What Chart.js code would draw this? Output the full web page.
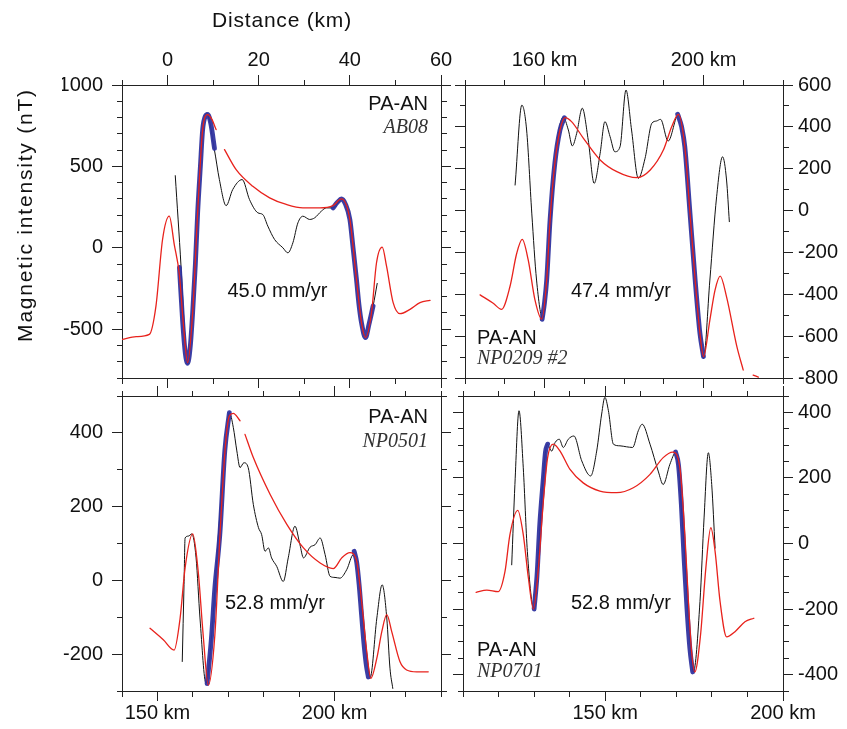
<!DOCTYPE html>
<html>
<head>
<meta charset="utf-8">
<script src="https://cdn.jsdelivr.net/npm/chart.js@4.4.1/dist/chart.umd.min.js"></script>
<style>
  html, body { margin: 0; padding: 0; background: #fff; overflow: hidden; }
  #wrap { position: relative; width: 847px; height: 729px; }
  #wrap canvas { position: absolute; left: 0; top: 0; }
</style>
</head>
<body>
<div id="wrap">
  <canvas id="tl" width="847" height="729"></canvas>
  <canvas id="tr" width="847" height="729"></canvas>
  <canvas id="bl" width="847" height="729"></canvas>
  <canvas id="br" width="847" height="729"></canvas>
</div>
<script>
// ---- AB08 (top left), distance in km ----
const tlModelKm = [-10, -6.9, -4.0, -2.55, -1.1, 0.37, 1.47, 2.57, 3.5, 4.4, 5.5, 6.6, 7.7, 8.8, 9.7, 10.65, 11.5, 12.5, 15.05, 18.7, 22.4, 26.05, 29.7, 33.4, 36.3, 38.15, 40.0, 41.45, 42.55, 43.43, 44.75, 45.85, 47.1, 48.05, 49.5, 51.0, 53.2, 55.4, 57.6];
const tlModel = [-563, -546, -532, -358, 51, 194, 20, -160, -480, -706, -400, 215, 726, 818, 790, 726, null, 603, 480, 378, 307, 266, 245, 245, 259, 300, 174, -194, -460, -552, -399, -92, 4, -113, -337, -405, -378, -337, -323];
const tlObsKm = [1.69, 2.95, 3.7, 4.4, 5.5, 6.6, 7.65, 8.58, 10.27, 11.37, 12.85, 14.3, 16.37, 17.98, 19.8, 20.9, 22.0, 23.48, 25.3, 26.4, 27.5, 28.6, 29.7, 31.18, 32.28, 33.75, 34.85, 36.3, 38.15, 40.0, 41.45, 42.55, 43.43, 45.1, 46.0];
const tlObs = [443, -113, -500, -715, -400, 215, 700, 828, 603, 419, 259, 358, 419, 296, 215, 204, 133, 51, 0, -31, 31, 153, 194, 174, 184, 225, 245, 245, 296, 174, -194, -460, -552, -358, -219];
const tlFit1Km = [2.6, 3.3, 3.9, 4.4, 5.0, 5.5, 6.1, 6.6, 7.2, 7.7, 8.3, 8.8, 9.5, 10.3];
const tlFit1 = [-120, -450, -650, -710, -600, -400, -100, 215, 500, 726, 810, 820, 760, 610];
const tlFit2Km = [36.3, 37.3, 38.15, 39.0, 40.0, 40.7, 41.45, 42.0, 42.55, 43.43, 44.2, 45.1];
const tlFit2 = [245, 280, 300, 270, 174, 0, -194, -350, -460, -552, -470, -358];

// ---- NP0209 #2 (top right) ----
const trModelKm = [143.8, 147.1, 149.2, 151.3, 153.0, 154.4, 155.9, 157.6, 159.3, 160.55, 161.4, 162.6, 163.9, 165.2, 166.8, 169.8, 174.0, 178.2, 183.2, 186.6, 189.9, 192.0, 193.7, 195.3, 196.6, 197.9, 199.1, 200.0, 201.6, 202.9, 204.2, 205.8, 208.4, 210.0, 211.2, 212.5, 213.8];
const trModel = [-403, -443, -472, -364, -205, -138, -236, -427, -519, -332, -45, 226, 385, 444, 425, 345, 242, 186, 157, 194, 289, 401, 460, 305, -12, -332, -586, -698, -523, -380, -313, -412, -650, -762, null, -786, -796];
const trObsKm = [152.6, 154.3, 155.5, 156.8, 158.0, 159.55, 161.4, 163.05, 164.7, 166.0, 167.0, 168.1, 169.5, 171.0, 172.5, 174.0, 175.2, 176.5, 177.7, 179.0, 180.5, 181.9, 183.6, 185.3, 187.0, 188.2, 189.2, 191.1, 193.7, 195.3, 196.6, 197.9, 199.1, 200.0, 201.6, 203.3, 204.8, 205.8, 206.5];
const trObs = [122, 504, 385, -12, -332, -515, -93, 305, 446, 385, 309, 369, 489, 337, 130, 274, 425, 353, 281, 305, 576, 385, 154, 250, 417, 428, 436, 332, 460, 305, -12, -332, -600, -706, -332, 66, 257, 146, -53];
const trFit1Km = [159.4, 160.0, 160.55, 161.4, 162.6, 163.9, 165.0];
const trFit1 = [-520, -440, -332, -45, 226, 385, 444];
const trFit2Km = [193.5, 194.5, 195.3, 196.6, 197.9, 199.1, 200.0];
const trFit2 = [460, 400, 305, -12, -332, -586, -698];

// ---- NP0501 (bottom left) ----
const blModelKm = [147.9, 151.65, 154.7, 156.4, 157.8, 159.95, 161.5, 162.9, 164.35, 166.2, 167.65, 169.05, 170.3, 171.4, 173.3, 174.0, 174.7, 177.05, 181.8, 186.5, 191.2, 195.9, 199.6, 202.0, 204.3, 206.2, 207.6, 209.05, 210.2, 211.9, 213.3, 214.7, 216.1, 218.4, 220.3, 223.15, 226.4];
const blModel = [-130, -161, -189, -102, 34, 126, 24, -148, -284, -148, 124, 351, 446, 453, 433, null, 396, 333, 233, 152, 88, 47, 32, 61, 75, 52, -57, -193, -266, -211, -139, -93, -139, -220, -243, -248, -248];
const blObsKm = [157.0, 157.5, 157.8, 158.7, 159.7, 160.9, 162.0, 163.7, 165.3, 167.2, 169.05, 170.3, 171.4, 172.4, 173.3, 174.4, 175.6, 177.05, 178.5, 179.4, 180.35, 181.3, 182.2, 183.65, 185.5, 186.9, 188.8, 190.2, 191.2, 193.05, 194.5, 195.9, 197.3, 198.7, 200.1, 201.5, 203.4, 205.3, 206.6, 207.7, 208.9, 210.0, 211.9, 213.4, 214.7, 215.6, 216.4];
const blObs = [-220, -12, 115, 120, 126, 61, -102, -279, -148, 124, 351, 455, 415, 351, 306, 319, 306, 206, 143, 124, 79, 88, 61, 38, -3, 61, 147, 97, 61, 90, 97, 115, 70, 11, 8, 6, 29, 70, 20, -80, -190, -264, -102, -12, -102, -238, -293];
const blFit1Km = [164.0, 165.2, 166.2, 167.6, 169.0, 170.3];
const blFit1 = [-280, -160, -20, 124, 351, 455];
const blFit2Km = [205.5, 206.2, 206.9, 207.6, 208.3, 209.0, 209.5];
const blFit2 = [79, 50, -12, -95, -175, -235, -262];

// ---- NP0701 (bottom right) ----
const brModelKm = [113.7, 116.7, 119.9, 121.8, 123.2, 125.4, 126.95, 128.4, 129.8, 131.2, 132.6, 133.8, 135.4, 137.3, 140.1, 143.8, 148.5, 153.2, 157.9, 162.6, 166.3, 169.0, 171.0, 172.4, 173.4, 174.3, 175.2, 176.8, 178.3, 179.7, 180.9, 182.3, 184.15, 186.5, 189.3, 191.8];
const brModel = [-149, -142, -147, -86, 27, 101, 27, -106, -200, -75, 129, 262, 303, 282, 226, 185, 160, 155, 170, 211, 262, 279, 231, 27, -177, -331, -392, -280, -75, 48, -24, -177, -285, -269, -239, -228];
const brObsKm = [123.7, 124.6, 125.75, 126.95, 128.1, 130.0, 131.2, 132.6, 133.7, 134.95, 135.9, 137.1, 138.2, 139.6, 141.2, 143.4, 145.9, 147.6, 149.0, 149.9, 150.9, 152.3, 154.15, 156.0, 157.7, 159.3, 160.4, 162.6, 164.9, 166.3, 168.2, 169.8, 171.95, 173.4, 174.8, 176.65, 177.8, 179.0, 179.95, 180.9];
const brObs = [-65, 180, 405, 231, -24, -200, -24, 211, 303, 282, 308, 318, 293, 318, 328, 252, 206, 282, 395, 446, 405, 303, 298, 295, 293, 344, 364, 303, 221, 180, 242, 277, 27, -228, -392, -177, 78, 277, 180, -14];
const brFit1Km = [130.0, 130.8, 131.6, 132.6, 133.2, 133.8];
const brFit1 = [-200, -100, 60, 200, 280, 303];
const brFit2Km = [169.8, 170.6, 171.4, 172.2, 173.0, 173.8, 174.6];
const brFit2 = [279, 240, 120, -50, -200, -320, -392];

Chart.defaults.font.family = '"Liberation Sans", Arial, Helvetica, sans-serif';
Chart.defaults.font.size = 20;
Chart.defaults.color = '#111';

const W = 847, H = 729;
const axisColor = '#222';

function pts(xs, ys) {
  return xs.map((x, i) => ({ x: x, y: ys[i] }));
}

function axis(pos, min, max, step, isMajor, label, thick, pad) {
  const outerFirst = pos === 'left' || pos === 'top';
  const vertical = pos === 'left' || pos === 'right';
  return {
    type: 'linear',
    position: pos,
    min: min,
    max: max,
    afterFit: s => { if (vertical) s.width = thick; else s.height = thick; },
    grid: {
      drawOnChartArea: false,
      drawTicks: true,
      tickLength: 10,
      tickColor: axisColor,
      tickWidth: 1,
      tickBorderDash: ctx => {
        if (!ctx.tick || isMajor(Math.round(ctx.tick.value))) return [];
        return outerFirst ? [0, 5, 5, 40] : [5, 40];
      }
    },
    border: { display: true, color: axisColor, width: 1 },
    ticks: {
      stepSize: step,
      autoSkip: false,
      maxRotation: 0,
      minRotation: 0,
      padding: pad,
      color: '#111',
      font: { size: 20 },
      callback: v => {
        const r = Math.round(v);
        return label && isMajor(r) ? label(r) : '';
      }
    }
  };
}

function notesPlugin(items) {
  return {
    id: 'notes',
    afterDraw(chart) {
      const c = chart.ctx, a = chart.chartArea;
      items.forEach(n => {
        c.save();
        c.font = n.font;
        c.fillStyle = n.color || '#111';
        c.textAlign = n.align || 'left';
        c.textBaseline = 'middle';
        if (n.spacing) c.letterSpacing = n.spacing;
        const x = n.abs ? n.x : a.left + n.x;
        const y = n.abs ? n.y : a.top + n.y;
        if (n.rotate) {
          c.translate(x, y);
          c.rotate(-Math.PI / 2);
          c.fillText(n.text, 0, 0);
        } else {
          c.fillText(n.text, x, y);
        }
        c.restore();
      });
    }
  };
}

const sans = '20px "Liberation Sans", Arial, sans-serif';
const serifIt = 'italic 20px "Liberation Serif", "Times New Roman", serif';
const num = v => String(v);
const km = v => v + ' km';

function makePanel(id, p) {
  const f = p.frame;
  const side = { left: 12, right: 12, top: 12, bottom: 12 };
  side[p.yLabelSide] = 60;
  side[p.xLabelSide] = p.xLabelSide === 'top' ? 40 : 30;
  const yOther = p.yLabelSide === 'left' ? 'right' : 'left';
  const xOther = p.xLabelSide === 'top' ? 'bottom' : 'top';
  const yPad = p.yLabelSide === 'left' ? 9 : 5;
  const xPad = p.xLabelSide === 'top' ? 3 : 0;

  const scales = {};
  scales.x = axis(p.xLabelSide, p.xMin, p.xMax, p.xStep, p.xMajor, p.xText, side[p.xLabelSide], xPad);
  scales.x2 = axis(xOther, p.xMin, p.xMax, p.xStep, p.xMajor, null, side[xOther], 3);
  scales.y = axis(p.yLabelSide, p.yMin, p.yMax, p.yStep, p.yMajor, p.yText, side[p.yLabelSide], yPad);
  scales.y2 = axis(yOther, p.yMin, p.yMax, p.yStep, p.yMajor, null, side[yOther], 3);

  const datasets = [
    { label: 'model', data: pts(p.model[0], p.model[1]), borderColor: '#e8221c', borderWidth: 1.3 },
    { label: 'fit 1', data: pts(p.fits[0][0], p.fits[0][1]), borderColor: 'rgba(48,52,160,0.95)', borderWidth: 4.8 },
    { label: 'fit 2', data: pts(p.fits[1][0], p.fits[1][1]), borderColor: 'rgba(48,52,160,0.95)', borderWidth: 4.8 },
    { label: 'observed', data: pts(p.obs[0], p.obs[1]), borderColor: '#111', borderWidth: 1 }
  ].map(d => Object.assign(d, {
    xAxisID: 'x', yAxisID: 'y',
    pointRadius: 0,
    fill: false,
    spanGaps: false,
    cubicInterpolationMode: 'monotone',
    borderCapStyle: 'round',
    borderJoinStyle: 'round'
  }));

  return new Chart(document.getElementById(id), {
    type: 'line',
    data: { datasets: datasets },
    options: {
      responsive: false,
      animation: false,
      events: [],
      layout: {
        padding: {
          left: f.left - side.left,
          right: W - f.right - side.right,
          top: f.top - side.top,
          bottom: H - f.bottom - side.bottom
        }
      },
      plugins: { legend: { display: false }, tooltip: { enabled: false } },
      scales: scales
    },
    plugins: [notesPlugin(p.notes)]
  });
}

makePanel('tl', {
  frame: { left: 122, top: 85, right: 441, bottom: 378 },
  xMin: -10, xMax: 60, xStep: 10, xMajor: v => v % 20 === 0, xText: num, xLabelSide: 'top',
  yMin: -800, yMax: 1000, yStep: 100, yMajor: v => v % 500 === 0, yText: num, yLabelSide: 'left',
  model: [tlModelKm, tlModel], obs: [tlObsKm, tlObs], fits: [[tlFit1Km, tlFit1], [tlFit2Km, tlFit2]],
  notes: [
    { text: 'PA-AN', x: 306, y: 19, align: 'right', font: sans },
    { text: 'AB08', x: 306, y: 43, align: 'right', font: serifIt, color: '#333' },
    { text: '45.0 mm/yr', x: 155.5, y: 206, align: 'center', font: sans },
    { text: 'Distance (km)', x: 282, y: 21, align: 'center', abs: true, font: '21px "Liberation Sans", Arial, sans-serif', spacing: '0.8px' },
    { text: 'Magnetic intensity (nT)', x: 26, y: 215, align: 'center', abs: true, rotate: true, font: '21px "Liberation Sans", Arial, sans-serif', spacing: '1.8px' }
  ]
});

makePanel('tr', {
  frame: { left: 465, top: 85, right: 783, bottom: 378 },
  xMin: 140, xMax: 220, xStep: 10, xMajor: v => v === 160 || v === 200, xText: km, xLabelSide: 'top',
  yMin: -800, yMax: 600, yStep: 100, yMajor: v => v % 200 === 0, yText: num, yLabelSide: 'right',
  model: [trModelKm, trModel], obs: [trObsKm, trObs], fits: [[trFit1Km, trFit1], [trFit2Km, trFit2]],
  notes: [
    { text: '47.4 mm/yr', x: 156, y: 206, align: 'center', font: sans },
    { text: 'PA-AN', x: 12, y: 253, align: 'left', font: sans },
    { text: 'NP0209 #2', x: 12, y: 274, align: 'left', font: serifIt, color: '#333' }
  ]
});

makePanel('bl', {
  frame: { left: 122, top: 396, right: 441, bottom: 691 },
  xMin: 140, xMax: 230, xStep: 10, xMajor: v => v % 50 === 0, xText: km, xLabelSide: 'bottom',
  yMin: -300, yMax: 500, yStep: 100, yMajor: v => v % 200 === 0, yText: num, yLabelSide: 'left',
  model: [blModelKm, blModel], obs: [blObsKm, blObs], fits: [[blFit1Km, blFit1], [blFit2Km, blFit2]],
  notes: [
    { text: 'PA-AN', x: 306, y: 21, align: 'right', font: sans },
    { text: 'NP0501', x: 306, y: 46, align: 'right', font: serifIt, color: '#333' },
    { text: '52.8 mm/yr', x: 153, y: 207, align: 'center', font: sans }
  ]
});

makePanel('br', {
  frame: { left: 463, top: 396, right: 783, bottom: 691 },
  xMin: 110, xMax: 200, xStep: 10, xMajor: v => v % 50 === 0, xText: km, xLabelSide: 'bottom',
  yMin: -450, yMax: 450, yStep: 50, yMajor: v => v % 200 === 0, yText: num, yLabelSide: 'right',
  model: [brModelKm, brModel], obs: [brObsKm, brObs], fits: [[brFit1Km, brFit1], [brFit2Km, brFit2]],
  notes: [
    { text: '52.8 mm/yr', x: 158, y: 207, align: 'center', font: sans },
    { text: 'PA-AN', x: 14, y: 254, align: 'left', font: sans },
    { text: 'NP0701', x: 14, y: 276, align: 'left', font: serifIt, color: '#333' }
  ]
});
</script>
</body>
</html>
